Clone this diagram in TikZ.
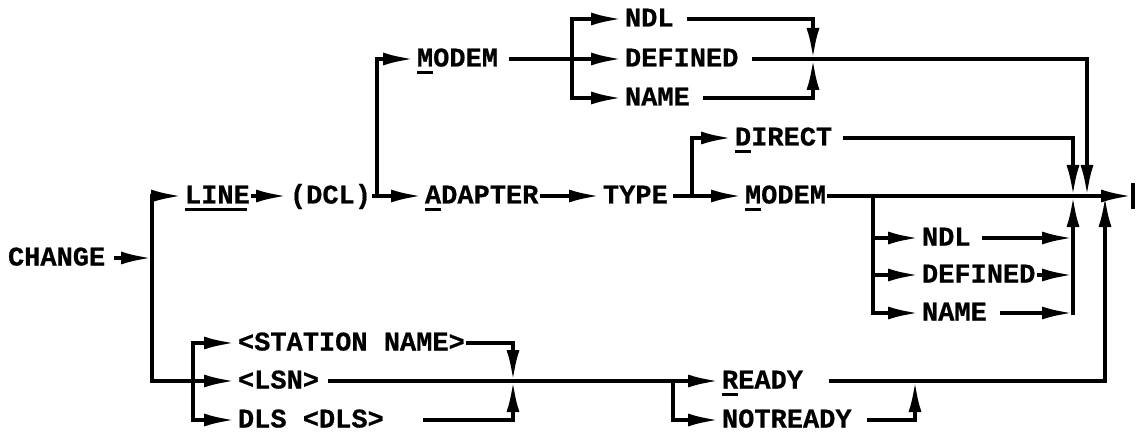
\documentclass[tikz,border=0pt]{standalone}
\usepackage{fontspec}
\usetikzlibrary{arrows.meta}
\newfontfamily\monofam{Liberation Mono}[FakeBold=0.6]
\begin{document}
\begin{tikzpicture}[x=1pt,y=-1pt,
  lbl/.style={inner xsep=3pt,inner ysep=0pt,outer sep=0pt,text height=15pt,text depth=0pt,anchor=west,
    font=\monofam\bfseries\fontsize{27}{30}\selectfont},
  wire/.style={line width=3.8pt,line cap=rect},
  arr/.style={wire,-{Latex[length=31pt,width=13pt]}},
  uline/.style={line width=2.6pt}]
\useasboundingbox (0,0) rectangle (1136,433);
% text nodes
\node[lbl] (change) at (5,258) {CHANGE};
\node[lbl] (line) at (182,196) {LINE};
\node[lbl] (dcl) at (287,196) {(DCL)};
\node[lbl] (modemA) at (414,59) {MODEM};
\node[lbl] (ndlA) at (622,19) {NDL};
\node[lbl] (defA) at (622,59) {DEFINED};
\node[lbl] (nameA) at (622,98) {NAME};
\node[lbl] (adapter) at (422,196) {ADAPTER};
\node[lbl] (type) at (600,196) {TYPE};
\node[lbl] (direct) at (732,138) {DIRECT};
\node[lbl] (modemB) at (742,196) {MODEM};
\node[lbl] (ndlB) at (919,238) {NDL};
\node[lbl] (defB) at (919,275) {DEFINED};
\node[lbl] (nameB) at (919,313) {NAME};
\node[lbl] (station) at (235,343) {<STATION NAME>};
\node[lbl] (lsn) at (235,381) {<LSN>};
\node[lbl] (dls) at (235,420) {DLS <DLS>};
\node[lbl] (ready) at (719,381) {READY};
\node[lbl] (notready) at (719,420) {NOTREADY};
% junctions
\coordinate (jc) at (152,258);
\coordinate (jtop) at (152,196);
\coordinate (jbot) at (152,381);
\coordinate (jd) at (377,196);
\coordinate (jdu) at (377,59);
\coordinate (jm) at (572,59);
\coordinate (jm1) at (572,19);
\coordinate (jm3) at (572,98);
\coordinate (k1) at (813,19);
\coordinate (k2) at (813,59);
\coordinate (k3) at (813,98);
\coordinate (e1) at (1087,59);
\coordinate (e2) at (1087,196);
\coordinate (jt) at (692,196);
\coordinate (jt2) at (692,138);
\coordinate (d1) at (1073,138);
\coordinate (d2) at (1073,196);
\coordinate (jb) at (873,196);
\coordinate (jb1) at (873,238);
\coordinate (jb2) at (873,275);
\coordinate (jb3) at (873,313);
\coordinate (f1) at (1073,238);
\coordinate (f2) at (1073,275);
\coordinate (f3) at (1073,313);
\coordinate (endpt) at (1132,196);
\coordinate (bar1) at (1133,183);
\coordinate (bar2) at (1133,209);
\coordinate (s0) at (193,343);
\coordinate (s2) at (193,420);
\coordinate (g1) at (513,343);
\coordinate (g2) at (513,381);
\coordinate (g3) at (513,420);
\coordinate (h1) at (673,381);
\coordinate (h2) at (673,420);
\coordinate (r1) at (1105,381);
\coordinate (r2) at (1105,196);
\coordinate (n1) at (915,420);
\coordinate (n2) at (915,381);
% connectors
\draw[arr,shorten <=8pt] (change.east) -- (jc);
\draw[arr] (jtop) -- (line.west);
\draw[arr] (jtop) -- (jbot) -- (lsn.west);
\draw[arr] (line.east) -- (dcl.west);
\draw[arr] (dcl.east) -- (jd) -- (adapter.west);
\draw[arr] (jd) -- (jdu) -- (modemA.west);
\draw[wire,shorten <=10pt] (modemA.east) -- (jm);
\draw[arr] (jm) -- (defA.west);
\draw[arr] (jm) -- (jm1) -- (ndlA.west);
\draw[arr] (jm) -- (jm3) -- (nameA.west);
\draw[arr,shorten <=12pt] (ndlA.east) -- (k1) -- (k2);
\draw[arr,shorten <=12pt] (nameA.east) -- (k3) -- (k2);
\draw[arr,shorten <=12pt] (defA.east) -- (e1) -- (e2);
\draw[arr] (adapter.east) -- (type.west);
\draw[wire,shorten <=4pt] (type.east) -- (jt);
\draw[arr] (jt) -- (modemB.west);
\draw[arr] (jt) -- (jt2) -- (direct.west);
\draw[arr,shorten <=10pt] (direct.east) -- (d1) -- (d2);
\draw[arr] (modemB.east) -- (endpt);
\draw[line width=4pt] (bar1) -- (bar2);
\draw[wire] (jb) -- (jb3);
\draw[arr] (jb1) -- (ndlB.west);
\draw[arr] (jb2) -- (defB.west);
\draw[arr] (jb3) -- (nameB.west);
\draw[arr,shorten <=10pt] (ndlB.east) -- (f1);
\draw[arr] (defB.east) -- (f2);
\draw[arr,shorten <=12pt] (nameB.east) -- (f3);
\draw[arr] (f3) -- (d2);
\draw[arr] (s0) -- (station.west);
\draw[arr] (s0) -- (s2) -- (dls.west);
\draw[arr] (station.east) -- (g1) -- (g2);
\draw[arr,shorten <=38pt] (dls.east) -- (g3) -- (g2);
\draw[arr,shorten <=8pt] (lsn.east) -- (h1) -- (ready.west);
\draw[arr] (h1) -- (h2) -- (notready.west);
\draw[arr,shorten <=25pt] (ready.east) -- (r1) -- (r2);
\draw[arr,shorten <=14pt] (notready.east) -- (n1) -- (n2);
% underlines
\draw[uline] ([xshift=3pt,yshift=-6pt]line.south west) -- ++(62,0);
\draw[uline] ([xshift=3pt,yshift=-6pt]modemA.south west) -- ++(16,0);
\draw[uline] ([xshift=3pt,yshift=-6pt]adapter.south west) -- ++(16,0);
\draw[uline] ([xshift=3pt,yshift=-6pt]direct.south west) -- ++(16,0);
\draw[uline] ([xshift=3pt,yshift=-6pt]modemB.south west) -- ++(16,0);
\draw[uline] ([xshift=3pt,yshift=-6pt]ready.south west) -- ++(16,0);
\end{tikzpicture}
\end{document}
